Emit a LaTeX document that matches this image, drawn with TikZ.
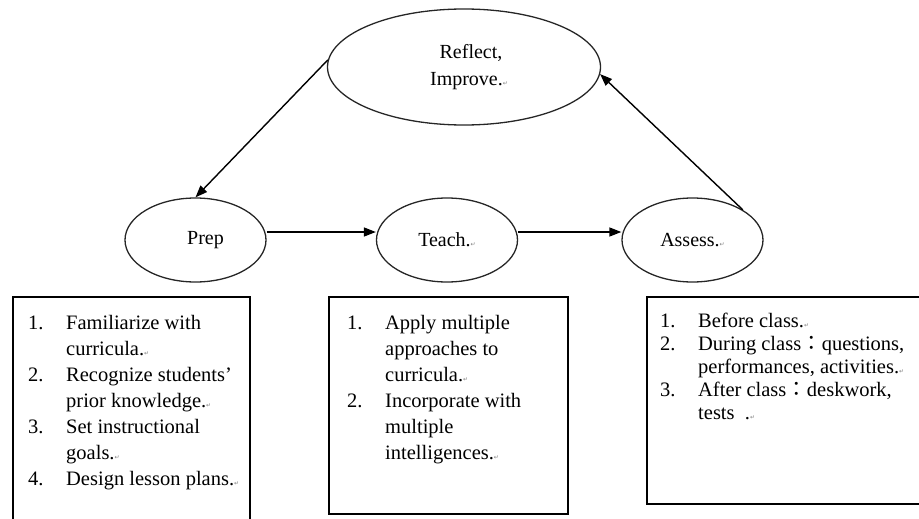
\documentclass[tikz,border=0pt]{standalone}
\usepackage{fontspec}
\setmainfont{Liberation Serif}
\newfontfamily\cjk{Noto Sans CJK TC}
\newfontfamily\symfont{DejaVu Sans}
\usetikzlibrary{shapes.geometric,arrows.meta,positioning}
\newcommand\pmark{{\symfont\fontsize{6}{6}\selectfont\color{gray}↵}}
\newcommand\num[1]{\makebox[38pt][l]{#1}}
\newcommand\fwcolon{{\cjk ：}}
\begin{document}
\begin{tikzpicture}[
        x=1pt, y=-1pt,
        stage/.style={draw=black!85, line width=1.3pt, ellipse, minimum width=141pt, minimum height=84pt, inner sep=0pt, align=center, font=\fontsize{20}{23}\selectfont},
        listbox/.style={draw, line width=1.8pt, anchor=north west, inner sep=0pt},
        listtext/.style={anchor=north west, align=left, inner sep=0pt, font=\fontsize{20.5}{26}\selectfont},
        arrow/.style={-{Triangle[length=12pt,width=9pt]}, line width=1.4pt}
    ]
        \clip (0,0) rectangle (919,519);
        % Teaching cycle
        \node[stage, minimum width=273pt, minimum height=116pt, font=\fontsize{20}{27}\selectfont] (reflect) at (464,67) {\hspace*{14pt}Reflect,\\\hspace*{10pt}Improve.\pmark};
        \node[stage] (prep) at (195.5,240) {\hspace*{20pt}Prep};
        \node[stage] (teach) at (447,240) {Teach.\pmark};
        \node[stage] (assess) at (692.5,240) {Assess.\pmark};

        \draw[arrow] (reflect.177) -- (prep.north);
        \draw[arrow] ([yshift=8pt]prep.east) -- ([yshift=8pt]teach.west);
        \draw[arrow] ([yshift=8pt]teach.east) -- ([yshift=8pt]assess.west);
        \draw[arrow] (assess.north east) -- (reflect.-3);

        % Details under each stage
        \node[listbox, minimum width=237pt, minimum height=240pt] (prepbox) at (12,296) {};
        \node[listbox, minimum width=239pt, minimum height=217pt] (teachbox) at (328,296) {};
        \node[listbox, minimum width=290pt, minimum height=207pt] (assessbox) at (646,296) {};

        \node[listtext] (preplist) at ([xshift=16pt,yshift=-19pt]prepbox.north west) {%
            \num{1.}Familiarize with\\
            \num{}curricula.\pmark\\
            \num{2.}Recognize students’\\
            \num{}prior knowledge.\pmark\\
            \num{3.}Set instructional\\
            \num{}goals.\pmark\\
            \num{4.}Design lesson plans.\pmark};
        \node[listtext] (teachlist) at ([xshift=19pt,yshift=-19pt]teachbox.north west) {%
            \num{1.}Apply multiple\\
            \num{}approaches to\\
            \num{}curricula.\pmark\\
            \num{2.}Incorporate with\\
            \num{}multiple\\
            \num{}intelligences.\pmark};
        \node[listtext, font=\fontsize{20.5}{23}\selectfont] (assesslist) at ([xshift=14pt,yshift=-17pt]assessbox.north west) {%
            \num{1.}Before class.\pmark\\
            \num{2.}During class\fwcolon questions,\\
            \num{}performances, activities.\pmark\\
            \num{3.}After class\fwcolon deskwork,\\
            \num{}tests \ .\pmark};
    \end{tikzpicture}
\end{document}
